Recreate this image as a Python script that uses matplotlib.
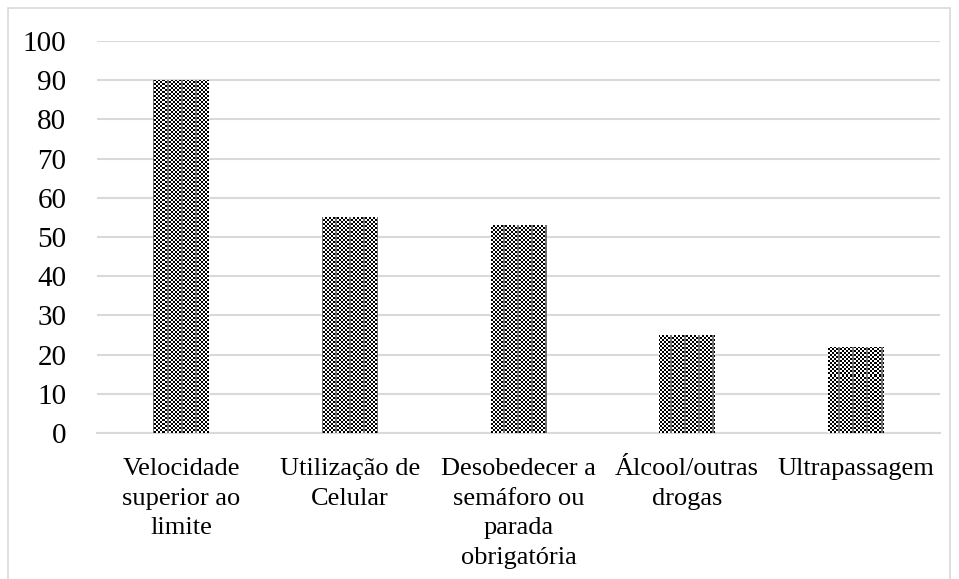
import matplotlib.pyplot as plt
import numpy as np
from matplotlib.patches import Rectangle

categories = [
    "Velocidade\nsuperior ao\nlimite",
    "Utilização de\nCelular",
    "Desobedecer a\nsemáforo ou\nparada\nobrigatória",
    "Álcool/outras\ndrogas",
    "Ultrapassagem",
]
values = [90, 55, 53, 25, 22]
yticks = list(range(0, 101, 10))

plt.rcParams["font.family"] = ["Liberation Serif", "DejaVu Serif"]

fig = plt.figure(figsize=(9.59, 5.79), dpi=100)
fig.patches.append(Rectangle((8 / 959, -0.01), 942 / 959, 1 - 8 / 579 + 0.01,
                             transform=fig.transFigure, fill=False,
                             edgecolor="#d9d9d9", linewidth=1.2))
ax = fig.add_axes([97 / 959, 1 - 433 / 579, 843 / 959, 392 / 579])

x = np.arange(len(categories))
bars = ax.bar(x, values, width=0.33, color="none", edgecolor="none", zorder=3)
ax.set_xlim(-0.5, len(categories) - 0.5)
ax.set_ylim(0, 100)

# checkerboard fill, clipped to each bar
ny, nx = 196, 422
checker = (np.add.outer(np.arange(ny), np.arange(nx)) % 2).astype(float)
checker[:, ::7] = 0.45
for b in bars:
    im = ax.imshow(checker, cmap="gray", vmin=0, vmax=1, extent=(-0.5, 4.5, 0, 100),
                   aspect="auto", interpolation="nearest", zorder=3)
    im.set_clip_path(b)

ax.set_xticks(x, categories)
ax.set_yticks(yticks)
ax.tick_params(length=0, labelsize=19, colors="black")
ax.tick_params(axis="y", labelsize=21, pad=22)
ax.tick_params(axis="x", pad=18)
for lab in ax.get_xticklabels():
    lab.set_linespacing(1.45)
ax.grid(axis="y", color="#d9d9d9", linewidth=1.5, zorder=0)
ax.set_axisbelow(True)
for s in ["top", "right", "left"]:
    ax.spines[s].set_visible(False)
ax.spines["bottom"].set_color("#d9d9d9")
ax.spines["bottom"].set_linewidth(1.5)

fig.savefig("out.png", dpi=100)
